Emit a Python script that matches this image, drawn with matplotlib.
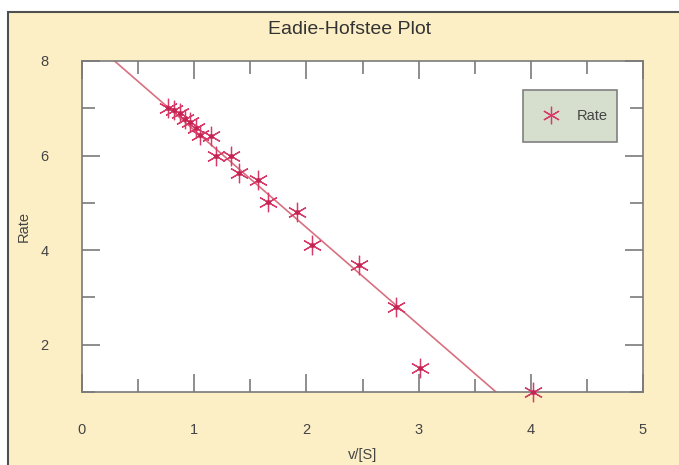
import matplotlib
matplotlib.use("Agg")
import matplotlib.pyplot as plt
from matplotlib.patches import Rectangle

plt.rcParams['font.family'] = ['Liberation Sans', 'DejaVu Sans']

# Data
v_over_s = [0.77, 0.82, 0.875, 0.92, 0.96, 1.02, 1.05, 1.15, 1.19, 1.33,
            1.40, 1.57, 1.66, 1.92, 2.05, 2.47, 2.80, 3.01, 4.02]
rate = [7.01, 6.96, 6.89, 6.78, 6.70, 6.58, 6.43, 6.41, 6.00, 6.00,
        5.63, 5.49, 5.02, 4.80, 4.10, 3.68, 2.80, 1.50, 1.00]
fit_x = [0.29, 3.69]
fit_y = [8.0, 1.0]
x_ticks = [0, 1, 2, 3, 4, 5]
y_ticks = [2, 4, 6, 8]

W, H = 679, 465
fig = plt.figure(figsize=(W / 100, H / 100), dpi=100, facecolor='white')
panel = Rectangle((8 / W, -0.05), 1.1, 1 - 12 / H + 0.05, transform=fig.transFigure,
                  facecolor='#fcefc6', edgecolor='#505050', linewidth=1.5, zorder=-10)
fig.patches.append(panel)

ax = fig.add_axes([82 / W, 1 - 392 / H, (643 - 82) / W, (392 - 61) / H])
ax.set_facecolor('white')

mcol = '#d63a68'
lcol = '#d8707f'
ax.plot(fit_x, fit_y, color=lcol, linewidth=1.2, zorder=2)
ax.plot(v_over_s, rate, linestyle='none', marker=(6, 2, 0), markersize=14,
        markeredgewidth=0.9, color=mcol, label='Rate', clip_on=False, zorder=3)
ax.plot(v_over_s, rate, linestyle='none', marker='o', markersize=2.5,
        color='#c42452', clip_on=False, zorder=4)

ax.set_xlim(0, 5)
ax.set_ylim(1, 8)
ax.set_xticks(x_ticks)
ax.set_xticks([0.5, 1.5, 2.5, 3.5, 4.5], minor=True)
ax.set_yticks(y_ticks)
ax.set_yticks([1, 3, 5, 7], minor=True)
ax.tick_params(which='both', direction='in', top=True, right=True, color='#7a7a7a', width=1.2)
ax.tick_params(which='major', length=13, labelsize=10.5, labelcolor='#444444')
ax.tick_params(which='minor', length=9.5)
ax.tick_params(axis='x', which='major', pad=22)
ax.tick_params(axis='y', which='major', pad=24)
for s in ax.spines.values():
    s.set_color('#7a7a7a')
    s.set_linewidth(1.2)

ax.set_xlabel('v/[S]', fontsize=10.5, color='#444444', labelpad=8)
ax.set_ylabel('Rate', fontsize=10.5, color='#444444', labelpad=7)
fig.text(350 / W, 1 - 30 / H, 'Eadie-Hofstee Plot', fontsize=14, color='#333333',
         ha='center', va='center')

x0 = (523 - 82) / 561
x1 = (617 - 82) / 561
y0 = (392 - 142) / 331
y1 = (392 - 90) / 331
leg = ax.legend(loc='center', bbox_to_anchor=(x0, y0, x1 - x0, y1 - y0), mode='expand',
                fontsize=10.5, frameon=True, fancybox=False, borderpad=1.3,
                handlelength=1.2, handletextpad=1.2, borderaxespad=0, markerscale=0.9)
fr = leg.get_frame()
fr.set_facecolor('#d6dfce')
fr.set_edgecolor('#808080')
fr.set_alpha(1)
fr.set_linewidth(1.2)
for t in leg.get_texts():
    t.set_color('#444444')

fig.savefig('out.png', dpi=100, facecolor=fig.get_facecolor())
